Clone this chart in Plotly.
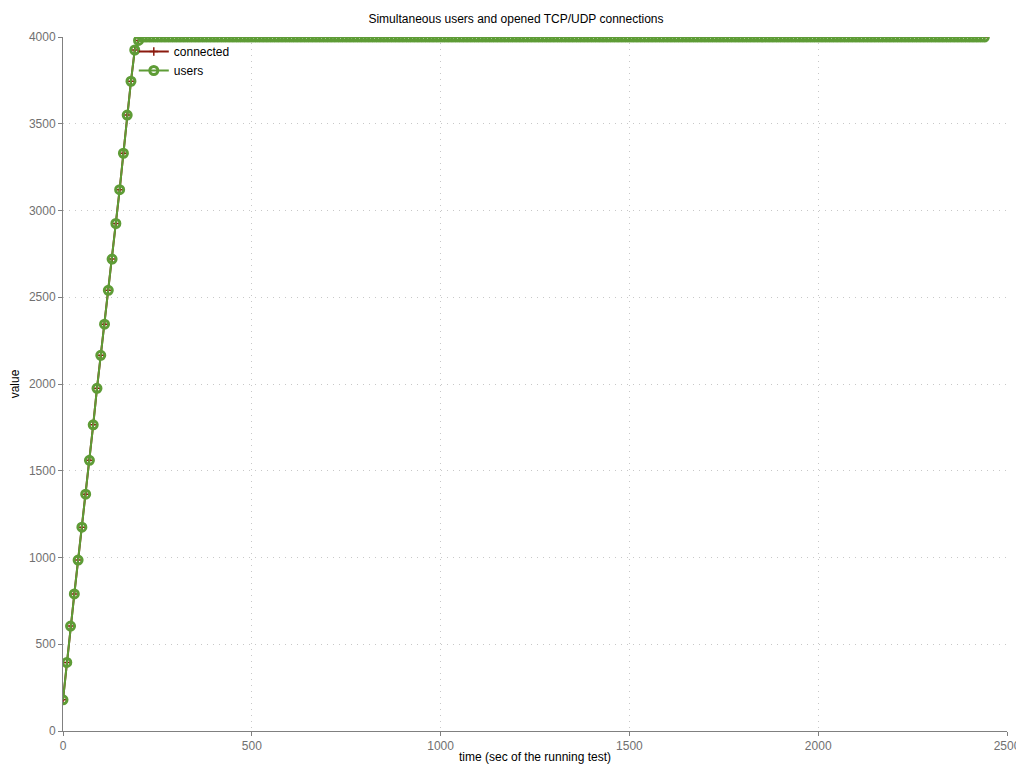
import plotly.graph_objects as go

# time in seconds of the running test (sampled every 10 s)
ramp_times = [0, 10, 20, 30, 40, 50, 60, 70, 80, 90, 100, 110, 120, 130, 140, 150, 160, 170, 180, 190, 200]
ramp_values = [180, 395, 605, 790, 985, 1175, 1365, 1560, 1765, 1975, 2165, 2345, 2540, 2720, 2925, 3120,
               3330, 3550, 3745, 3925, 3980]
plateau_times = list(range(210, 2450, 10))
plateau_values = [4000] * len(plateau_times)

times = ramp_times + plateau_times
users = ramp_values + plateau_values
connected = ramp_values + plateau_values

x_ticks = [0, 500, 1000, 1500, 2000, 2500]
y_ticks = [0, 500, 1000, 1500, 2000, 2500, 3000, 3500, 4000]

red = "#8b1a0e"
green = "#5e9c36"

fig = go.Figure()
fig.add_trace(go.Scatter(
    x=times, y=connected, name="connected", mode="lines+markers",
    line=dict(color=red, width=2),
    marker=dict(symbol="cross-thin-open", size=6, color=red, line=dict(color=red, width=1.5)),
))
fig.add_trace(go.Scatter(
    x=times, y=users, name="users", mode="lines+markers",
    line=dict(color=green, width=2),
    marker=dict(symbol="circle-open", size=8, color=green, line=dict(color=green, width=3)),
))

axis_common = dict(
    showgrid=True, gridcolor="#c8c8c8", griddash="1px,5px", gridwidth=1,
    showline=True, linecolor="#808080", linewidth=1,
    ticks="outside", ticklen=4, tickcolor="#808080",
    tickfont=dict(family="Liberation Sans, Arial, sans-serif", size=12, color="#707070"),
    zeroline=False, automargin=False,
)

fig.update_layout(
    width=1016, height=760,
    paper_bgcolor="white", plot_bgcolor="white",
    margin=dict(l=55, r=17, t=29, b=37, autoexpand=False),
    title=dict(text="Simultaneous users and opened TCP/UDP connections",
               x=0.5, xanchor="center", y=0.986, yanchor="middle", automargin=False,
               font=dict(family="Liberation Sans, Arial, sans-serif", size=12, color="black")),
    font=dict(family="Liberation Sans, Arial, sans-serif", size=12, color="black"),
    xaxis=dict(axis_common, range=[0, 2500], tickvals=x_ticks,
               title=dict(text="time (sec of the running test)", standoff=0,
                          font=dict(size=12, color="black"))),
    yaxis=dict(axis_common, range=[0, 4000], tickvals=y_ticks,
               title=dict(text="value", standoff=6, font=dict(size=12, color="black"))),
    legend=dict(x=0.075, y=1.0, xanchor="left", yanchor="top",
                bgcolor="rgba(0,0,0,0)", font=dict(size=12, color="black"),
                tracegroupgap=0, itemwidth=30),
    showlegend=True,
)

fig.write_html("out.html")
